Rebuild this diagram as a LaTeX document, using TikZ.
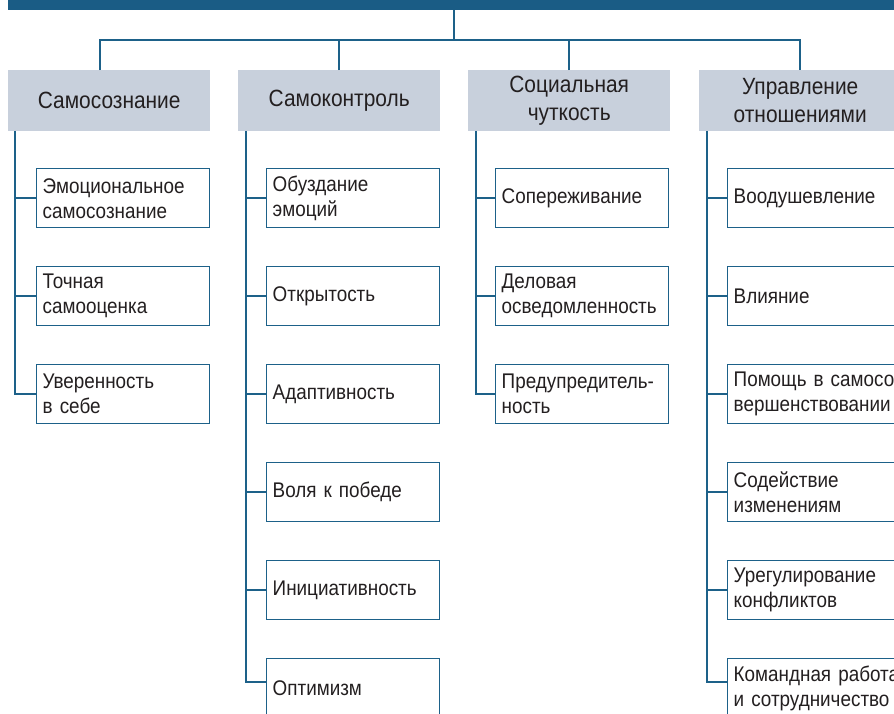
\documentclass[tikz,border=0pt]{standalone}
\usepackage{fontspec}
\setmainfont{Liberation Sans}[FakeStretch=0.89]
\definecolor{barblue}{HTML}{1A5C85}
\definecolor{lineblue}{HTML}{1D6189}
\definecolor{hdrfill}{HTML}{C8D0DC}
\definecolor{txt}{HTML}{231F20}
\tikzset{
  topbar/.style={fill=barblue, inner sep=0pt, minimum width=900pt, minimum height=10pt, anchor=north west},
  hdr/.style={fill=hdrfill, inner sep=0pt, minimum width=202pt, minimum height=60.5pt, anchor=north west,
    text width=196pt, align=center, text=txt, font=\fontsize{23.5}{28}\selectfont},
  child/.style={draw=lineblue, line width=1.4pt, fill=white, inner xsep=6pt, inner ysep=0pt,
    minimum width=173pt, minimum height=59pt, anchor=north west, text width=161pt, align=left,
    text=txt, font=\fontsize{21.2}{25}\selectfont},
  widechild/.style={child, text width=200pt},
  conn/.style={draw=lineblue, line width=2pt},
}
\begin{document}
\begin{tikzpicture}[x=1pt,y=-1pt]
\useasboundingbox (0,0) rectangle (894,713);
\clip (0,0) rectangle (894,713);
\fill[white] (0,0) rectangle (894,713);
\node[topbar] (bar) at (8,0) {};
\coordinate (hub) at (454,40);
% headers
\node[hdr] (h1) at (8,70) {Самосознание};
\node[hdr] (h2) at (238,70) {Самоконтроль};
\node[hdr] (h3) at (468,70) {Социальная\\чуткость};
\node[hdr] (h4) at (699,70) {Управление\\отношениями};
% top connectors
\draw[conn] (bar.south -| hub) -- (hub);
\draw[conn] ([xshift=-9pt]h1.north) |- (hub) -| (h4.north);
\draw[conn] (h2.north) -- (h2.north |- hub);
\draw[conn] (h3.north) -- (h3.north |- hub);
% column 1
\node[child] (c11) at (36,168) {Эмоциональное\\самосознание};
\node[child] (c12) at (36,266) {Точная\\самооценка};
\node[child] (c13) at (36,364) {Уверенность\\в себе};
% column 2
\node[child] (c21) at (266,168) {Обуздание\\эмоций};
\node[child] (c22) at (266,266) {Открытость};
\node[child] (c23) at (266,364) {Адаптивность};
\node[child] (c24) at (266,462) {Воля к победе};
\node[child] (c25) at (266,560) {Инициативность};
\node[child] (c26) at (266,658) {Оптимизм};
% column 3
\node[child] (c31) at (495,168) {Сопереживание};
\node[child] (c32) at (495,266) {Деловая\\осведомленность};
\node[child] (c33) at (495,364) {Предупредитель-\\ность};
% column 4
\node[widechild] (c41) at (727,168) {Воодушевление};
\node[widechild] (c42) at (727,266) {Влияние};
\node[widechild] (c43) at (727,364) {Помощь в самосо-\\вершенствовании};
\node[widechild] (c44) at (727,462) {Содействие\\изменениям};
\node[widechild] (c45) at (727,560) {Урегулирование\\конфликтов};
\node[widechild] (c46) at (727,658) {Командная работа\\и сотрудничество};
% trunks
\coordinate (t1) at ([xshift=7pt]h1.south west);
\coordinate (t2) at ([xshift=8pt]h2.south west);
\coordinate (t3) at ([xshift=8pt]h3.south west);
\coordinate (t4) at ([xshift=8pt]h4.south west);
\coordinate (e26) at ([yshift=-24pt]c26.north west);
\coordinate (e46) at ([yshift=-24pt]c46.north west);
\draw[conn] (t1) |- (c13.west);
\draw[conn] (c11.west) -- (c11.west -| t1);
\draw[conn] (c12.west) -- (c12.west -| t1);
\draw[conn] (t2) |- (e26);
\foreach \n in {c21,c22,c23,c24,c25} \draw[conn] (\n.west) -- (\n.west -| t2);
\draw[conn] (t3) |- (c33.west);
\foreach \n in {c31,c32} \draw[conn] (\n.west) -- (\n.west -| t3);
\draw[conn] (t4) |- (e46);
\foreach \n in {c41,c42,c43,c44,c45} \draw[conn] (\n.west) -- (\n.west -| t4);
\end{tikzpicture}
\end{document}
